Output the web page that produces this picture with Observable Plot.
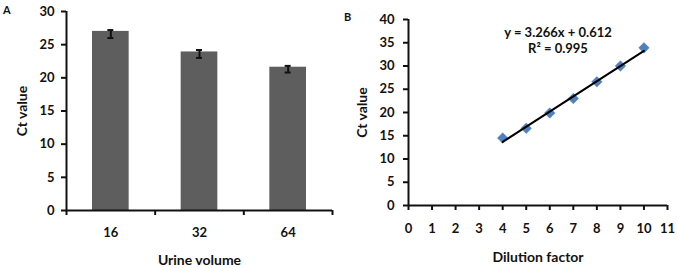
<!DOCTYPE html>
<html>
<head>
<meta charset="utf-8">
<script src="https://cdn.jsdelivr.net/npm/d3@7"></script>
<script src="https://cdn.jsdelivr.net/npm/@observablehq/plot@0.6"></script>
<style>
  html, body { margin: 0; padding: 0; background: #fff; }
  #wrap { position: relative; width: 678px; height: 268px; overflow: hidden; font-family: Lato, "Open Sans", sans-serif; }
  #a, #b { position: absolute; top: 0; }
  #a { left: 0; }
  #b { left: 338px; }
  .panel { position: absolute; font-weight: bold; font-size: 11px; color: #111; }
</style>
</head>
<body>
<div id="wrap">
  <div id="a"></div>
  <div id="b"></div>
  <div class="panel" style="left:3px; top:3px;">A</div>
  <div class="panel" style="left:344px; top:10px;">B</div>
</div>
<script>
// Panel A data
const volumes = ["16", "32", "64"];
const ctMeans = [27.0, 23.9, 21.6];
const errLow = [26.0, 23.0, 20.8];
const errHigh = [27.2, 24.2, 21.8];
const yTicksA = [0, 5, 10, 15, 20, 25, 30];

// Panel B data
const dilution = [4, 5, 6, 7, 8, 9, 10];
const ctDilution = [14.5, 16.6, 19.9, 23.0, 26.6, 30.0, 33.9];
const slope = 3.266;
const intercept = 0.612;
const equationText = "y = 3.266x + 0.612\nR² = 0.995";
const xTicksB = [0, 1, 2, 3, 4, 5, 6, 7, 8, 9, 10, 11];
const yTicksB = [0, 5, 10, 15, 20, 25, 30, 35, 40];

const font = "Lato, 'Open Sans', sans-serif";
const txt = "#111";

const barsA = volumes.map((v, i) => ({i, v, y: ctMeans[i], lo: errLow[i], hi: errHigh[i]}));

const plotA = Plot.plot({
  width: 338, height: 268,
  marginLeft: 66, marginRight: 6, marginTop: 11, marginBottom: 58,
  style: {fontFamily: font, fontSize: "13px", fontWeight: "bold", color: txt, background: "#fff", overflow: "visible"},
  x: {type: "linear", domain: [0, volumes.length]},
  y: {domain: [0, 30]},
  marks: [
    Plot.rectY(barsA, {x1: d => d.i, x2: d => d.i + 1, y: "y", fill: "#5e5e5e", insetLeft: 26, insetRight: 26}),
    Plot.ruleX(barsA, {x: d => d.i + 0.5, y1: "lo", y2: "hi", stroke: "#111", strokeWidth: 2}),
    Plot.ruleY(barsA, {x1: d => d.i + 0.5, x2: d => d.i + 0.5, y: "lo", insetLeft: -3, insetRight: -3, stroke: "#111", strokeWidth: 2}),
    Plot.ruleY(barsA, {x1: d => d.i + 0.5, x2: d => d.i + 0.5, y: "hi", insetLeft: -3, insetRight: -3, stroke: "#111", strokeWidth: 2}),
    Plot.axisY({ticks: yTicksA, tickSize: 5, tickPadding: 7, label: null, stroke: "#111", strokeWidth: 2, fill: txt}),
    Plot.axisX({ticks: d3.range(volumes.length + 1), tickFormat: () => "", tickSize: 5, label: null, stroke: "#111", strokeWidth: 2}),
    Plot.axisX({ticks: volumes.map((v, i) => i + 0.5), tickFormat: (d) => volumes[Math.floor(d)], tickSize: 0, tickPadding: 17, label: null, fill: txt}),
    Plot.ruleX([0], {stroke: "#111", strokeWidth: 2}),
    Plot.ruleY([0], {stroke: "#111", strokeWidth: 2}),
    Plot.text(["Ct value"], {frameAnchor: "left", rotate: -90, dx: -44, lineAnchor: "middle", textAnchor: "middle", fontSize: 14, fill: txt}),
    Plot.text(["Urine volume"], {frameAnchor: "bottom", dy: 50, lineAnchor: "middle", fontSize: 14, fill: txt})
  ]
});
document.getElementById("a").append(plotA);

const pointsB = dilution.map((x, i) => ({x, y: ctDilution[i]}));
const fitB = d3.extent(dilution).map(x => ({x, y: slope * x + intercept}));

const plotB = Plot.plot({
  width: 340, height: 268,
  marginLeft: 70, marginRight: 11, marginTop: 19, marginBottom: 63,
  style: {fontFamily: font, fontSize: "13px", fontWeight: "bold", color: txt, background: "#fff", overflow: "visible"},
  x: {domain: [0, 11]},
  y: {domain: [0, 40]},
  marks: [
    Plot.axisY({ticks: yTicksB, tickSize: 5, tickPadding: 9, label: null, stroke: "#111", strokeWidth: 2, fill: txt}),
    Plot.axisX({ticks: xTicksB, tickSize: 5, tickPadding: 13, label: null, stroke: "#111", strokeWidth: 2, fill: txt}),
    Plot.ruleX([0], {stroke: "#111", strokeWidth: 2}),
    Plot.ruleY([0], {stroke: "#111", strokeWidth: 2}),
    Plot.dot(pointsB, {x: "x", y: "y", symbol: "square", rotate: 45, r: 4.2, fill: "#4f81bd", stroke: "#4f81bd", strokeWidth: 0.5}),
    Plot.line(fitB, {x: "x", y: "y", stroke: "#000", strokeWidth: 2}),
    Plot.text([equationText], {frameAnchor: "top", dx: 20, dy: 6, lineAnchor: "top", lineHeight: 1.25, fontSize: 13, fill: txt}),
    Plot.text(["Ct value"], {frameAnchor: "left", rotate: -90, dx: -46, lineAnchor: "middle", textAnchor: "middle", fontSize: 14, fill: txt}),
    Plot.text(["Dilution factor"], {frameAnchor: "bottom", dy: 52, lineAnchor: "middle", fontSize: 14, fill: txt})
  ]
});
document.getElementById("b").append(plotB);
</script>
</body>
</html>
